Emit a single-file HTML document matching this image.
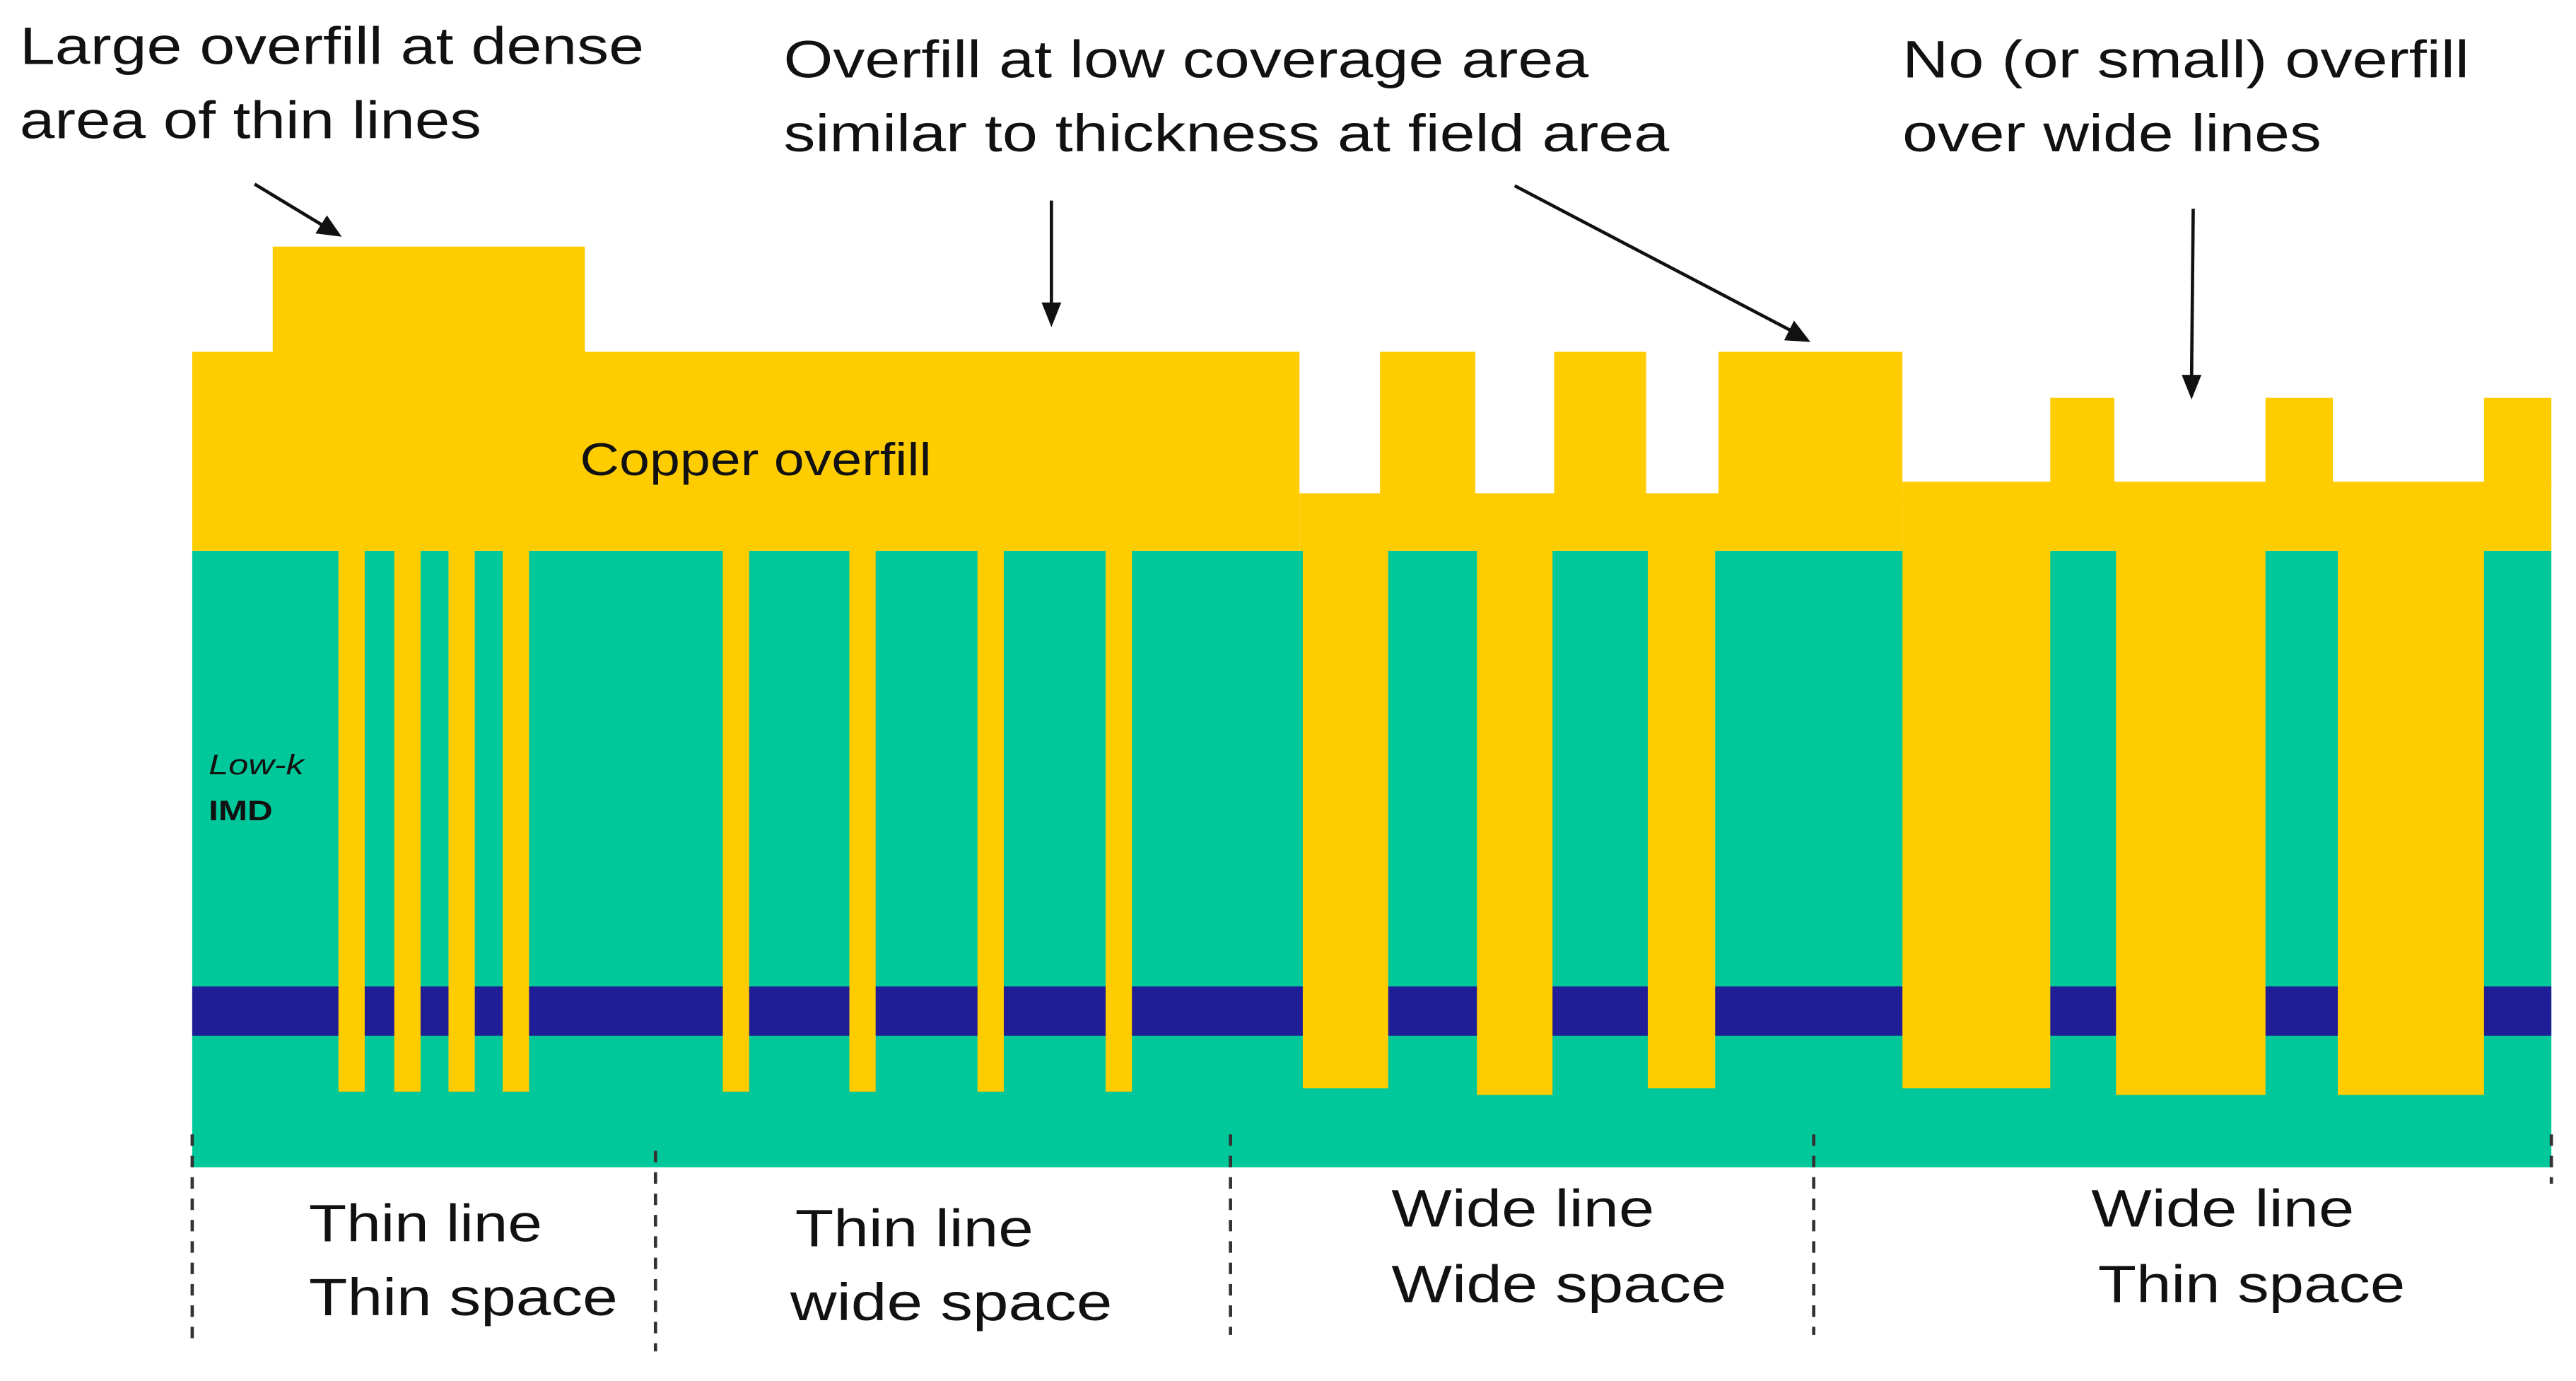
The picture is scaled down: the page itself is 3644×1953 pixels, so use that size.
<!DOCTYPE html>
<html><head><meta charset="utf-8"><style>html,body{margin:0;padding:0;background:#fff}svg{display:block}</style></head>
<body>
<svg width="3644" height="1953" viewBox="0 0 1568 840" preserveAspectRatio="none" xmlns="http://www.w3.org/2000/svg" font-family="Liberation Sans, Arial, sans-serif">
<rect width="1568" height="840" fill="#fff"/>
<!-- green IMD -->
<rect x="117" y="335" width="1436" height="375" fill="#00C89A"/>
<!-- blue band -->
<rect x="117" y="600" width="1436" height="30" fill="#201E96"/>
<!-- copper overfill -->
<g fill="#FFCC00">
<rect x="117" y="214" width="674" height="121"/>
<rect x="166" y="150" width="190" height="70"/>
<rect x="791" y="300" width="367" height="35"/>
<rect x="840" y="214" width="58" height="90"/>
<rect x="946" y="214" width="56" height="90"/>
<rect x="1046" y="214" width="112" height="90"/>
<rect x="1158" y="293" width="395" height="42"/>
<rect x="1248" y="242" width="39" height="55"/>
<rect x="1379" y="242" width="41" height="55"/>
<rect x="1512" y="242" width="41" height="55"/>
<!-- thin lines -->
<rect x="206" y="330" width="16" height="334"/>
<rect x="240" y="330" width="16" height="334"/>
<rect x="273" y="330" width="16" height="334"/>
<rect x="306" y="330" width="16" height="334"/>
<rect x="440" y="330" width="16" height="334"/>
<rect x="517" y="330" width="16" height="334"/>
<rect x="595" y="330" width="16" height="334"/>
<rect x="673" y="330" width="16" height="334"/>
<!-- wide lines -->
<rect x="793" y="330" width="52" height="332"/>
<rect x="899" y="330" width="46" height="336"/>
<rect x="1003" y="330" width="41" height="332"/>
<rect x="1158" y="330" width="90" height="332"/>
<rect x="1288" y="330" width="91" height="336"/>
<rect x="1423" y="330" width="89" height="336"/>
</g>
<!-- arrows -->
<g stroke="#111" stroke-width="2" fill="#111">
<line x1="155" y1="112" x2="198" y2="138"/>
<polygon points="208,144 192,142 199,131" stroke="none"/>
<line x1="640" y1="122" x2="640" y2="186"/>
<polygon points="640,199 634,184 646,184" stroke="none"/>
<line x1="922" y1="113" x2="1090" y2="201"/>
<polygon points="1102,208 1086,207 1092,195" stroke="none"/>
<line x1="1335" y1="127" x2="1334" y2="230"/>
<polygon points="1334,243 1328,228 1340,228" stroke="none"/>
</g>
<!-- dashed separators -->
<g stroke="#333" stroke-width="2" stroke-dasharray="7,6">
<line x1="117" y1="690" x2="117" y2="820"/>
<line x1="399" y1="700" x2="399" y2="822"/>
<line x1="749" y1="690" x2="749" y2="812"/>
<line x1="1104" y1="690" x2="1104" y2="812"/>
<line x1="1553" y1="690" x2="1553" y2="720"/>
</g>
<!-- text -->
<g fill="#111" font-size="32">
<text x="12" y="39" textLength="380" lengthAdjust="spacingAndGlyphs">Large overfill at dense</text>
<text x="12" y="84" textLength="281" lengthAdjust="spacingAndGlyphs">area of thin lines</text>
<text x="477" y="47" textLength="490" lengthAdjust="spacingAndGlyphs">Overfill at low coverage area</text>
<text x="477" y="92" textLength="539" lengthAdjust="spacingAndGlyphs">similar to thickness at field area</text>
<text x="1158" y="47" textLength="345" lengthAdjust="spacingAndGlyphs">No (or small) overfill</text>
<text x="1158" y="92" textLength="255" lengthAdjust="spacingAndGlyphs">over wide lines</text>
<text x="353" y="289" font-size="28" textLength="214" lengthAdjust="spacingAndGlyphs">Copper overfill</text>
<text x="127" y="471" font-size="17" font-style="italic" textLength="58" lengthAdjust="spacingAndGlyphs">Low-k</text>
<text x="127" y="499" font-size="17" font-weight="bold" textLength="39" lengthAdjust="spacingAndGlyphs">IMD</text>
<text x="188" y="755" textLength="142" lengthAdjust="spacingAndGlyphs">Thin line</text>
<text x="188" y="800" textLength="188" lengthAdjust="spacingAndGlyphs">Thin space</text>
<text x="484" y="758" textLength="145" lengthAdjust="spacingAndGlyphs">Thin line</text>
<text x="481" y="803" textLength="196" lengthAdjust="spacingAndGlyphs">wide space</text>
<text x="847" y="746" textLength="160" lengthAdjust="spacingAndGlyphs">Wide line</text>
<text x="847" y="792" textLength="204" lengthAdjust="spacingAndGlyphs">Wide space</text>
<text x="1273" y="746" textLength="160" lengthAdjust="spacingAndGlyphs">Wide line</text>
<text x="1277" y="792" textLength="187" lengthAdjust="spacingAndGlyphs">Thin space</text>
</g>
</svg>
</body></html>
